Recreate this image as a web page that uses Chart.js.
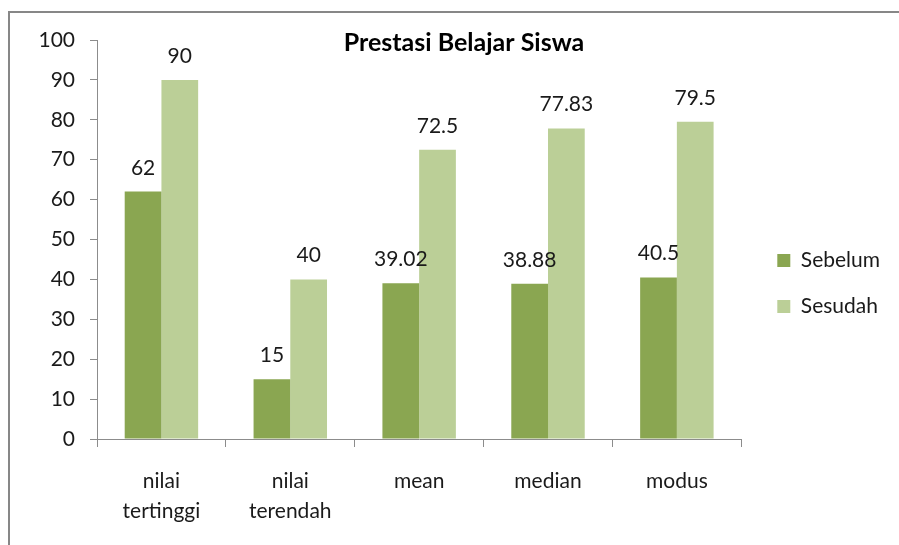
<!DOCTYPE html>
<html>
<head>
<meta charset="utf-8">
<script src="https://cdn.jsdelivr.net/npm/chart.js@4.4.1/dist/chart.umd.min.js"></script>
<style>
  html, body { margin: 0; padding: 0; background: #fff; }
  #wrap { position: relative; width: 899px; height: 545px; }
  #frame { position: absolute; left: 8px; top: 11px; width: 900px; height: 560px;
           border-top: 2px solid #878787; border-left: 2px solid #878787; box-sizing: border-box; }
  canvas { position: absolute; left: 0; top: 0; }
</style>
</head>
<body>
<div id="wrap">
  <div id="frame"></div>
  <canvas id="chart" width="899" height="545"></canvas>
</div>
<script>
const chartTitle = 'Prestasi Belajar Siswa';
const categories = [['nilai', 'tertinggi'], ['nilai', 'terendah'], 'mean', 'median', 'modus'];
const sebelum = [62, 15, 39.02, 38.88, 40.5];
const sesudah = [90, 40, 72.5, 77.83, 79.5];
const yTicks = [0, 10, 20, 30, 40, 50, 60, 70, 80, 90, 100];

const fontFamily = 'Lato, "Open Sans", sans-serif';
const axisGray = '#8c8c8c';

// title sits inside the plot area like in the original
const titlePlugin = {
  id: 'innerTitle',
  afterDraw(chart) {
    const ctx = chart.ctx;
    ctx.save();
    ctx.font = 'bold 25px ' + fontFamily;
    ctx.fillStyle = '#000';
    ctx.textAlign = 'center';
    ctx.textBaseline = 'alphabetic';
    ctx.fillText(chartTitle, 464, 51);
    ctx.restore();
  }
};

const valueLabels = {
  id: 'valueLabels',
  afterDatasetsDraw(chart) {
    const ctx = chart.ctx;
    ctx.save();
    ctx.font = '21px ' + fontFamily;
    ctx.fillStyle = '#1a1a1a';
    ctx.textAlign = 'center';
    ctx.textBaseline = 'alphabetic';
    chart.data.datasets.forEach((ds, i) => {
      chart.getDatasetMeta(i).data.forEach((bar, j) => {
        ctx.fillText(String(ds.data[j]), bar.x, bar.y - 17);
      });
    });
    ctx.restore();
  }
};

// nudge the legend to where excel put it
const legendNudge = {
  id: 'legendNudge',
  afterLayout(chart) {
    const lg = chart.legend;
    if (!lg) return;
    lg.left += 11; lg.right += 11;
    lg.top -= 9; lg.bottom -= 9;
  }
};

new Chart(document.getElementById('chart'), {
  type: 'bar',
  data: {
    labels: categories,
    datasets: [
      { label: 'Sebelum', data: sebelum, backgroundColor: '#8aa651', borderWidth: 0 },
      { label: 'Sesudah', data: sesudah, backgroundColor: '#bbcf97', borderWidth: 0 }
    ]
  },
  options: {
    responsive: false,
    animation: false,
    events: [],
    layout: { padding: { top: 40, left: 0, bottom: 0, right: 20 } },
    datasets: { bar: { categoryPercentage: 0.57, barPercentage: 1 } },
    plugins: {
      title: { display: false },
      tooltip: { enabled: false },
      legend: {
        position: 'right',
        labels: {
          boxWidth: 13, boxHeight: 13, padding: 25,
          color: '#1a1a1a',
          font: { family: fontFamily, size: 21 }
        }
      }
    },
    scales: {
      x: {
        afterFit(scale) { scale.height = 106; },
        grid: { offset: true, drawOnChartArea: false, drawTicks: true, tickLength: 8, color: axisGray, lineWidth: 1 },
        border: { color: axisGray, width: 1 },
        ticks: { color: '#1a1a1a', padding: 20, font: { family: fontFamily, size: 21, lineHeight: 1.4 }, maxRotation: 0 }
      },
      y: {
        min: 0, max: 100,
        afterFit(scale) { scale.width = 97; },
        afterBuildTicks(scale) { scale.ticks = yTicks.map(v => ({ value: v })); },
        grid: { drawOnChartArea: false, drawTicks: true, tickLength: 7, color: axisGray, lineWidth: 1 },
        border: { color: axisGray, width: 1 },
        ticks: { color: '#1a1a1a', padding: 15, font: { family: fontFamily, size: 21 } }
      }
    }
  },
  plugins: [titlePlugin, valueLabels, legendNudge]
});
</script>
</body>
</html>
